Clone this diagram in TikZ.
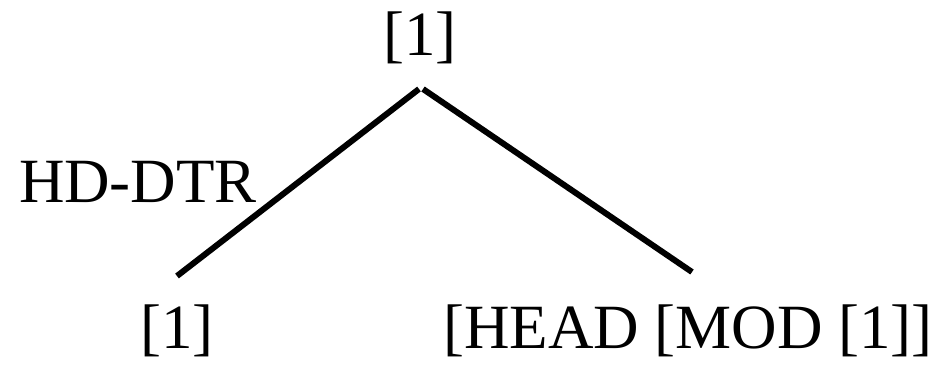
\documentclass[tikz,border=0pt]{standalone}
\usepackage{fontspec}
\setmainfont{Liberation Serif}
\begin{document}
\begin{tikzpicture}[x=1pt,y=-1pt,
  lbl/.style={anchor=base,inner sep=0pt,font=\fontsize{63}{63}\selectfont},
  branch/.style={line width=6pt}]
\useasboundingbox (0,0) rectangle (947,368);
\node[lbl] (top) at (420,55) {[1]};
\node[lbl] (hd) at (138,202) {HD-DTR};
\node[lbl] (left) at (177,348) {[1]};
\node[lbl] (right) at (688,348) {[HEAD [MOD [1]]};
\coordinate (apexL) at (419,89);
\coordinate (apexR) at (423,89);
\coordinate (footL) at (177,276);
\coordinate (footR) at (692,272);
\draw[branch] (apexL) -- (footL);
\draw[branch] (apexR) -- (footR);
\end{tikzpicture}
\end{document}
